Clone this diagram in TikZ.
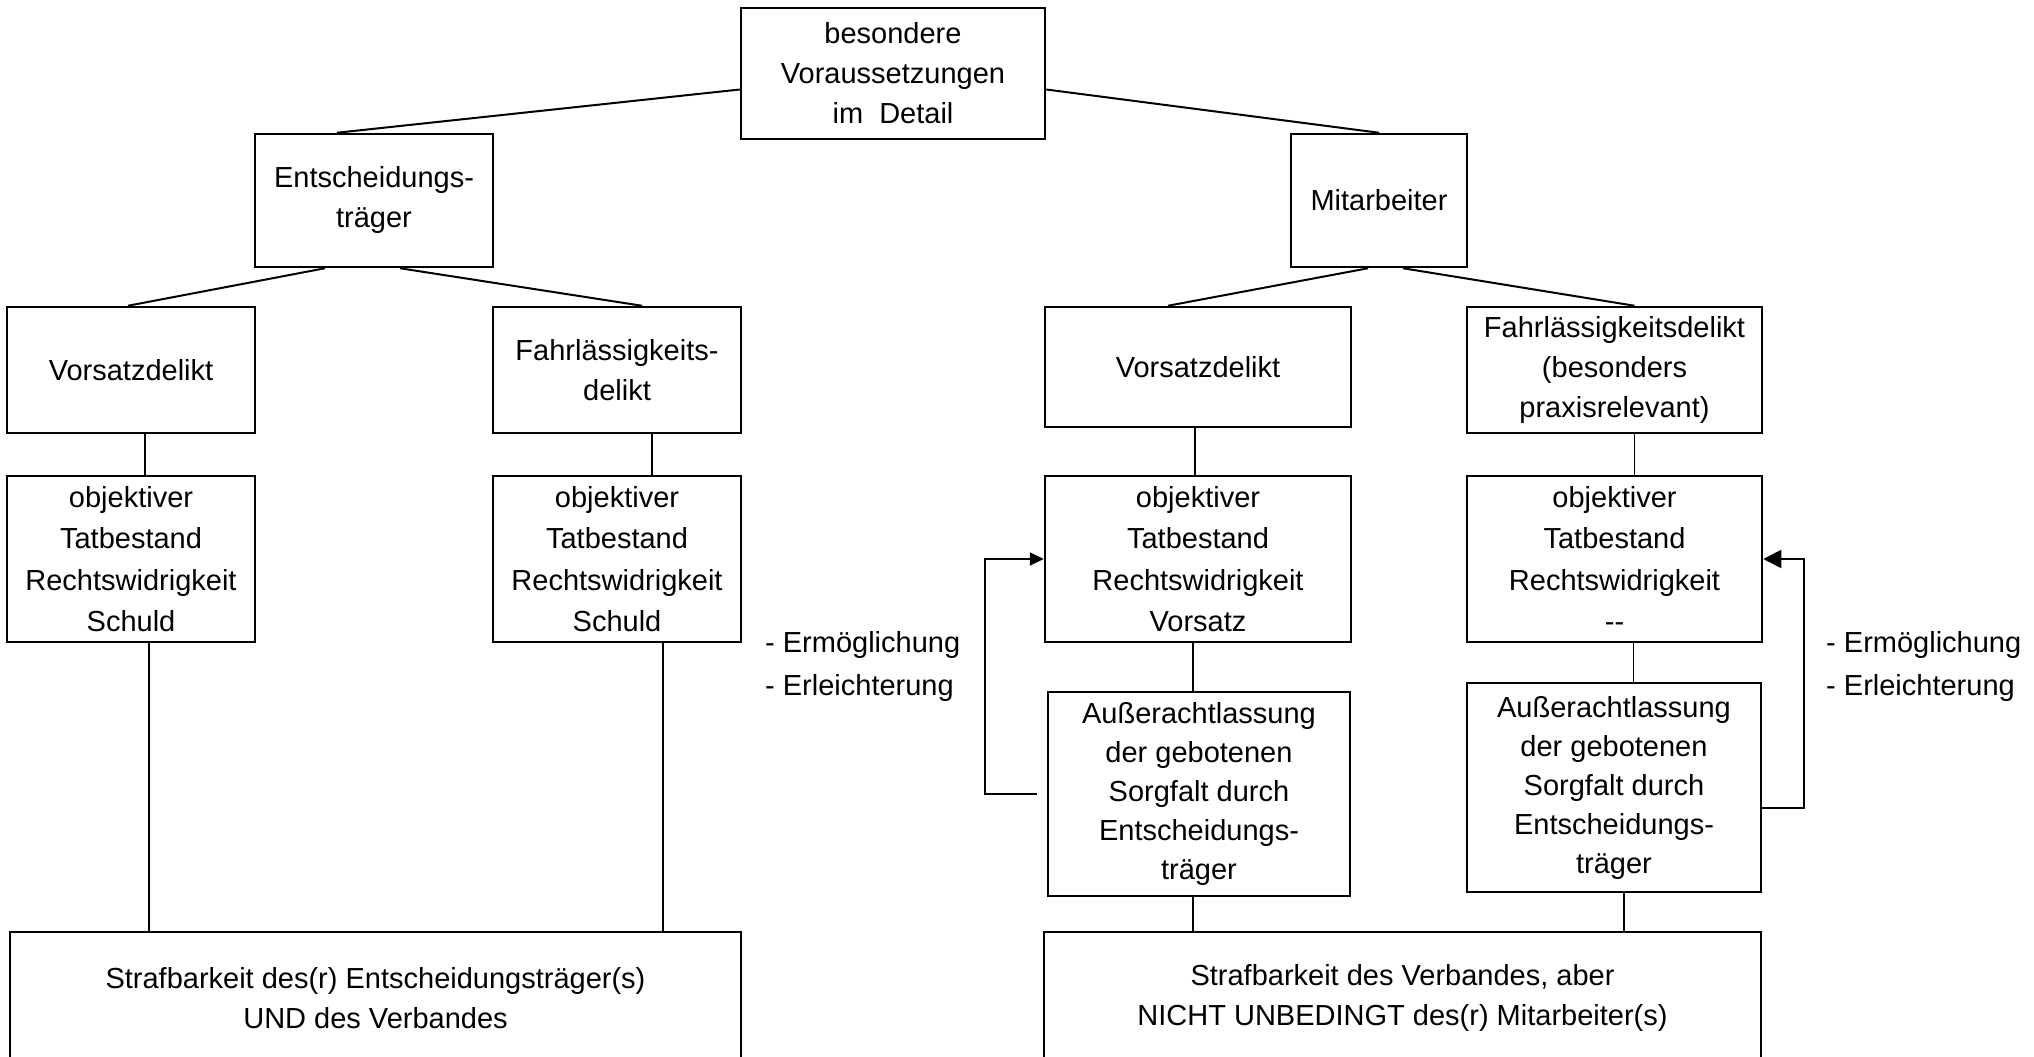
\documentclass[tikz,border=0pt]{standalone}
\usepackage{fontspec}
\setmainfont{Liberation Sans}
\usetikzlibrary{arrows.meta}
\begin{document}
\begin{tikzpicture}[x=1pt, y=-1pt,
	box/.style={draw, line width=2.5pt, align=center, inner sep=0pt, font=\fontsize{29}{40}\selectfont},
	link/.style={line width=2pt},
	tick/.style={line width=1.5pt},
	note/.style={align=left, inner sep=0pt, font=\fontsize{29}{43}\selectfont}]
	\useasboundingbox (0,0) rectangle (2034,1057);
	\node[box, minimum width=304, minimum height=131] (top) at (893,73.5) {besondere\\Voraussetzungen\\im~ Detail};
	\node[box, minimum width=238, minimum height=133] (ent) at (374,200.5) {Entscheidungs-\\träger};
	\node[box, minimum width=176, minimum height=133] (mit) at (1379,200.5) {Mitarbeiter};
	\node[box, minimum width=248, minimum height=126] (vor1) at (131,370) {Vorsatzdelikt};
	\node[box, minimum width=248, minimum height=126] (fahr1) at (617,370) {Fahrlässigkeits-\\delikt};
	\node[box, minimum width=306, minimum height=120] (vor2) at (1198,367) {Vorsatzdelikt};
	\node[box, minimum width=295, minimum height=126] (fahr2) at (1614.5,370) {Fahrlässigkeitsdelikt\\(besonders\\praxisrelevant)};
	\node[box, minimum width=248, minimum height=166, font=\fontsize{29}{41.5}\selectfont] (obj1) at (131,559) {objektiver\\Tatbestand\\Rechtswidrigkeit\\Schuld};
	\node[box, minimum width=248, minimum height=166, font=\fontsize{29}{41.5}\selectfont] (obj2) at (617,559) {objektiver\\Tatbestand\\Rechtswidrigkeit\\Schuld};
	\node[box, minimum width=306, minimum height=166, font=\fontsize{29}{41.5}\selectfont] (obj3) at (1198,559) {objektiver\\Tatbestand\\Rechtswidrigkeit\\Vorsatz};
	\node[box, minimum width=295, minimum height=166, font=\fontsize{29}{41.5}\selectfont] (obj4) at (1614.5,559) {objektiver\\Tatbestand\\Rechtswidrigkeit\\-{}-};
	\node[box, minimum width=302, minimum height=204, font=\fontsize{29}{39}\selectfont] (aus3) at (1199,794) {Außerachtlassung\\der gebotenen\\Sorgfalt durch\\Entscheidungs-\\träger};
	\node[box, minimum width=294, minimum height=209, font=\fontsize{29}{39}\selectfont] (aus4) at (1614,787.5) {Außerachtlassung\\der gebotenen\\Sorgfalt durch\\Entscheidungs-\\träger};
	\node[box, minimum width=731, minimum height=132] (str1) at (375.5,998) {Strafbarkeit des(r) Entscheidungsträger(s)\\UND des Verbandes};
	\node[box, minimum width=717, minimum height=132] (str2) at (1402.5,998) {Strafbarkeit des Verbandes, aber\\NICHT UNBEDINGT des(r) Mitarbeiter(s)};
	\node[note, anchor=west] (hint1) at (765,666) {- Ermöglichung\\- Erleichterung};
	\node[note, anchor=west] (hint2) at (1826,666) {- Ermöglichung\\- Erleichterung};
	\draw[link] ([yshift=-16pt]top.west) -- ([xshift=-37pt]ent.north);
	\draw[link] ([yshift=-16pt]top.east) -- (mit.north);
	\draw[link] ([xshift=-49pt]ent.south) -- ([xshift=-3pt]vor1.north);
	\draw[link] ([xshift=26pt]ent.south) -- ([xshift=25pt]fahr1.north);
	\draw[link] ([xshift=-11pt]mit.south) -- ([xshift=-30pt]vor2.north);
	\draw[link] ([xshift=24pt]mit.south) -- ([xshift=20pt]fahr2.north);
	\draw[tick] ([xshift=14pt]vor1.south) -- ([xshift=14pt]obj1.north);
	\draw[tick] ([xshift=35pt]fahr1.south) -- ([xshift=35pt]obj2.north);
	\draw[tick] ([xshift=-3pt]vor2.south) -- ([xshift=-3pt]obj3.north);
	\draw[tick] ([xshift=20pt]fahr2.south) -- ([xshift=20pt]obj4.north);
	\draw[tick] ([xshift=18pt]obj1.south) -- ([xshift=18pt]obj1.south |- str1.north);
	\draw[tick] ([xshift=46pt]obj2.south) -- ([xshift=46pt]obj2.south |- str1.north);
	\draw[tick] ([xshift=-5pt]obj3.south) -- ([xshift=-5pt]obj3.south |- aus3.north);
	\draw[tick] ([xshift=19pt]obj4.south) -- ([xshift=19pt]obj4.south |- aus4.north);
	\draw[tick] ([xshift=-6pt]aus3.south) -- ([xshift=-6pt]aus3.south |- str2.north);
	\draw[tick] ([xshift=10pt]aus4.south) -- ([xshift=10pt]aus4.south |- str2.north);
	\draw[link, -{Triangle[length=14pt, width=13pt]}] ([xshift=-10pt]aus3.west) -- ++(-52,0) |- (obj3.west);
	\draw[link, -{Triangle[length=18pt, width=18pt]}] ([yshift=-20pt]aus4.east) -- ++(42,0) |- (obj4.east);
\end{tikzpicture}
\end{document}
